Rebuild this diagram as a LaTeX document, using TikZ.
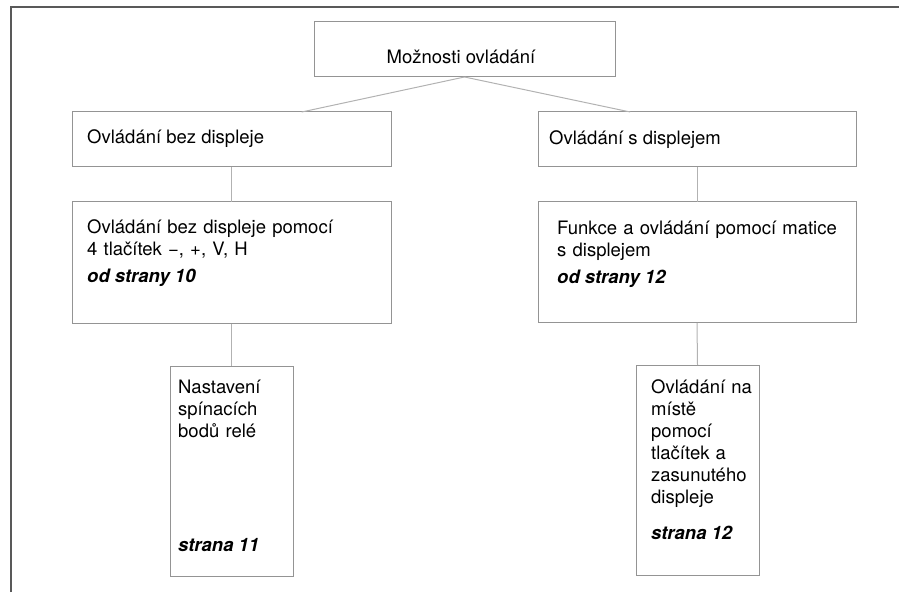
\documentclass[tikz,border=0pt]{standalone}
\usepackage{fontspec}
\setmainfont{TeX Gyre Heros}
\usetikzlibrary{calc}

\begin{document}
\begin{tikzpicture}[x=1pt, y=-1pt,
    font=\fontsize{18.5}{22}\selectfont,
    box/.style={draw=black!42, line width=1pt, inner sep=0pt, outer sep=0pt, anchor=north west},
    conn/.style={draw=black!30, line width=1pt},
    txt/.style={inner sep=0pt, anchor=base west, align=left},
    strana/.style={txt, font=\fontsize{18.5}{22}\selectfont\bfseries\itshape}]
    \useasboundingbox (0,0) rectangle (899,593);
    \draw[black!65, line width=2pt] (11,592) -- (11,7) -- (899,7);

    % boxes
    \node[box, minimum width=301pt, minimum height=55pt] (moznosti) at (314,22) {};
    \node[box, minimum width=319pt, minimum height=55pt] (bez) at (72,112) {};
    \node[box, minimum width=318pt, minimum height=55pt] (sdisp) at (538,112) {};
    \node[box, minimum width=319pt, minimum height=122pt] (bezpom) at (72,202) {};
    \node[box, minimum width=318pt, minimum height=121pt] (funkce) at (538,202) {};
    \node[box, minimum width=123pt, minimum height=210pt] (nastav) at (170,366) {};
    \node[box, minimum width=123pt, minimum height=210pt] (mistni) at (636,365) {};

    % texts
    \node[txt, anchor=base] (moznosti-t) at (461,64) {Možnosti ovládání};
    \node[txt] (bez-t) at (87,144) {Ovládání bez displeje};
    \node[txt] (sdisp-t) at (549,145) {Ovládání s displejem};
    \node[txt, text width=300pt] (bezpom-t) at (87,234) {Ovládání bez displeje pomocí\\4 tlačítek −, +, V, H};
    \node[strana] (bezpom-s) at (87,283) {od strany 10};
    \node[txt, text width=295pt] (funkce-t) at (557,235) {Funkce a ovládání pomocí matice\\s displejem};
    \node[strana] (funkce-s) at (557,284) {od strany 12};
    \node[txt, text width=110pt] (nastav-t) at (178,393) {Nastavení\\spínacích\\bodů relé};
    \node[strana] (nastav-s) at (178,551) {strana 11};
    \node[txt, text width=105pt] (mistni-t) at (651,393) {Ovládání na\\místě\\pomocí\\tlačítek a\\zasunutého\\displeje};
    \node[strana] (mistni-s) at (651,539) {strana 12};

    % connectors
    \draw[conn] (moznosti.south) -- ($(bez.north west)!0.72!(bez.north east)$);
    \draw[conn] (moznosti.south) -- ($(sdisp.north west)!0.29!(sdisp.north east)$);
    \draw[conn] (bez.south) -- (bezpom.north);
    \draw[conn] (sdisp.south) -- (funkce.north);
    \draw[conn] (bezpom.south) -- (nastav.north);
    \draw[conn] (funkce.south) -- (mistni.north);
\end{tikzpicture}
\end{document}
